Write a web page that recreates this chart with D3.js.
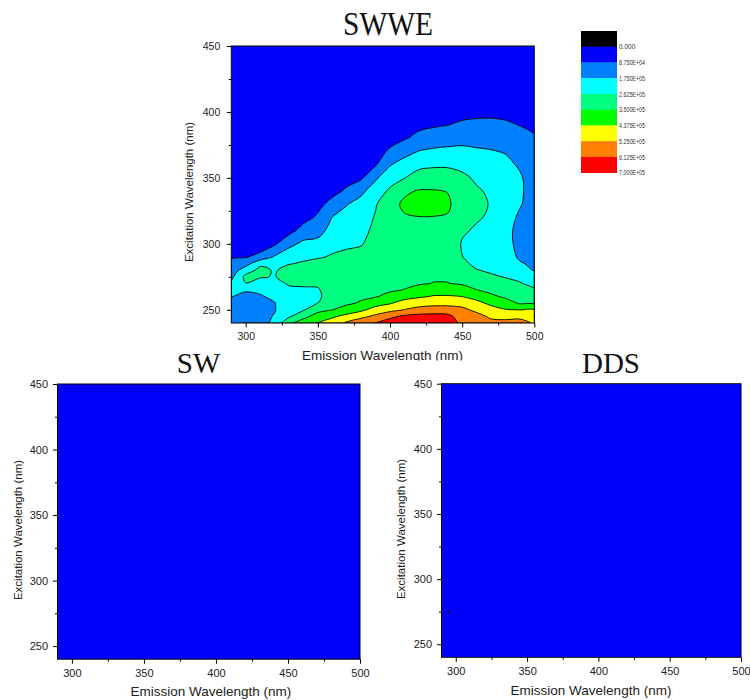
<!DOCTYPE html>
<html><head><meta charset="utf-8">
<script src="https://cdn.jsdelivr.net/npm/d3@7"></script>
<style>body{margin:0;background:#fff}</style>
</head><body>
<svg id="chart" width="750" height="700"></svg>
<script>
// ---------------- DATA ----------------
// Emission wavelengths (columns) and excitation wavelengths (rows), nm
const emission = [290,300,310,320,330,340,350,360,370,380,390,400,410,420,430,440,450,460,470,480,490,500];
const excitation = [240,245,250,255,260,265,270,275,280,285,290,300,310,320,330,340,350,360,370,380,390,400,425,450];
// SWWE fluorescence intensity, in units of 1E+05, one row per excitation wavelength
const swweIntensity = [
  [1.45,1.5,1.45,1.9,3.3,3.9,4.42,4.75,5.4,5.9,6.15,6.6,6.8,6.9,6.95,6.85,5.7,5.75,5.5,5.45,5.4,5.2],
  [1.52,1.54,1.5,1.8,2.5,3.25,3.85,4.25,4.6,5.0,5.45,5.9,6.3,6.45,6.5,6.4,5.65,5.55,5.1,5.05,5.15,4.95],
  [1.59,1.58,1.55,1.7,2.35,2.55,3.25,3.48,3.9,4.2,4.7,5.0,5.27,5.45,5.55,5.55,5.45,5.05,4.7,4.42,4.36,4.36],
  [1.66,1.62,1.6,1.72,2.3,2.35,2.63,3.2,3.35,3.6,4.05,4.3,4.75,5.0,5.05,5.05,4.95,4.6,4.2,3.95,3.4,3.35],
  [1.73,1.67,1.68,1.9,2.35,2.35,2.45,3.1,3.2,3.35,3.45,3.75,4.05,4.25,4.45,4.45,4.38,4.1,3.7,3.35,3.05,2.95],
  [2.15,1.78,1.88,2.15,2.48,2.5,2.55,3.05,3.15,3.25,3.35,3.4,3.52,3.8,3.95,4.0,3.9,3.52,3.25,3.0,2.85,2.7],
  [1.85,2.6,2.25,2.4,2.7,2.75,2.75,3.05,3.15,3.2,3.3,3.35,3.38,3.42,3.52,3.52,3.4,3.1,2.95,2.78,2.68,2.4],
  [1.55,2.85,2.7,2.58,2.95,2.95,3.0,3.1,3.15,3.2,3.25,3.3,3.35,3.38,3.42,3.4,3.1,2.85,2.7,2.6,2.45,2.05],
  [1.3,2.2,2.85,2.55,2.9,3.0,3.1,3.05,3.1,3.15,3.2,3.28,3.33,3.36,3.38,3.35,2.9,2.65,2.55,2.45,2.1,1.7],
  [1.05,1.4,2.45,2.3,2.58,2.72,2.9,2.9,2.95,3.0,3.1,3.25,3.32,3.35,3.36,3.32,2.75,2.5,2.45,2.35,1.85,1.55],
  [0.8,0.82,1.15,1.85,2.3,2.45,2.55,2.7,2.8,2.85,3.0,3.22,3.3,3.35,3.35,3.3,2.64,2.4,2.38,2.25,1.6,1.45],
  [0.55,0.5,0.4,0.75,1.5,1.95,2.0,2.4,2.5,2.58,2.9,3.2,3.3,3.38,3.37,3.3,2.55,2.35,2.3,2.1,1.45,1.35],
  [0.45,0.42,0.35,0.45,0.6,1.2,1.45,2.05,2.25,2.4,2.8,3.2,3.35,3.42,3.42,3.35,2.75,2.5,2.35,2.05,1.45,1.32],
  [0.4,0.38,0.33,0.38,0.42,0.6,1.0,1.77,2.0,2.2,2.7,3.25,3.45,3.48,3.48,3.45,3.0,2.72,2.5,2.15,1.6,1.32],
  [0.36,0.35,0.31,0.35,0.38,0.45,0.65,1.15,1.72,2.0,2.55,3.3,3.6,3.75,3.7,3.6,3.15,2.8,2.58,2.25,1.82,1.35],
  [0.33,0.33,0.3,0.33,0.35,0.4,0.5,0.62,1.0,1.6,2.1,2.8,3.4,3.55,3.55,3.48,3.1,2.72,2.5,2.2,1.88,1.38],
  [0.3,0.31,0.29,0.31,0.33,0.36,0.45,0.5,0.6,0.75,1.65,2.2,2.6,3.0,3.05,3.05,2.8,2.5,2.35,2.1,1.85,1.35],
  [0.28,0.29,0.28,0.29,0.31,0.33,0.4,0.45,0.5,0.55,0.8,1.7,2.1,2.4,2.5,2.5,2.4,2.2,2.1,1.95,1.65,1.25],
  [0.26,0.27,0.27,0.28,0.29,0.31,0.36,0.4,0.45,0.48,0.55,1.0,1.45,1.78,1.9,1.95,1.95,1.85,1.8,1.7,1.45,1.1],
  [0.25,0.26,0.26,0.27,0.28,0.3,0.33,0.37,0.41,0.44,0.48,0.6,0.8,1.1,1.3,1.4,1.5,1.5,1.45,1.35,1.15,0.93],
  [0.24,0.25,0.25,0.26,0.27,0.29,0.31,0.34,0.38,0.4,0.43,0.5,0.58,0.7,0.78,0.87,1.0,1.05,1.05,0.98,0.86,0.75],
  [0.22,0.24,0.24,0.25,0.26,0.28,0.3,0.32,0.35,0.37,0.4,0.45,0.5,0.55,0.58,0.62,0.65,0.7,0.72,0.7,0.65,0.6],
  [0.2,0.21,0.21,0.22,0.23,0.25,0.26,0.28,0.3,0.32,0.34,0.37,0.4,0.42,0.44,0.46,0.47,0.48,0.48,0.48,0.47,0.45],
  [0.18,0.19,0.19,0.2,0.2,0.22,0.23,0.25,0.27,0.28,0.3,0.32,0.35,0.36,0.38,0.4,0.4,0.4,0.4,0.4,0.4,0.38]
];
// SW and DDS: intensity stays in the lowest band everywhere
const swEmission = [290, 500];
const swExcitation = [240, 450];
const swIntensity = [[0.02,0.02],[0.02,0.02]];
const ddsEmission = [290, 500];
const ddsExcitation = [240, 450];
const ddsIntensity = [[0.02,0.02],[0.02,0.02]];
const ddsSpot = [[295, 275]];

// contour levels (1E+05) and legend
const levels = [0, 0.875, 1.75, 2.625, 3.5, 4.375, 5.25, 6.125, 7.0];
const levelLabels = ["0.000","8.750E+04","1.750E+05","2.625E+05","3.500E+05","4.375E+05","5.250E+05","6.125E+05","7.000E+05"];
const bandColors = ["#0000FF","#0080FF","#00FFFF","#00FF80","#00FF00","#FFFF00","#FF8000","#FF0000"];
const legendColors = ["#000000","#0000FF","#0080FF","#00FFFF","#00FF80","#00FF00","#FFFF00","#FF8000","#FF0000"];

const xTicks = [300,350,400,450,500];
const xMinor = [325,375,425,475];
const yTicks = [250,300,350,400,450];
const yMinor = [275,325,375,425];
const xTitle = "Emission Wavelength (nm)";
const yTitle = "Excitation Wavelength (nm)";

// ---------------- DRAW ----------------
const svg = d3.select("#chart");
svg.append("rect").attr("width",750).attr("height",700).attr("fill","#fff");
const SANS = "'Liberation Sans', Arial, sans-serif";
const SERIF = "'Liberation Serif', 'Times New Roman', serif";
let clipId = 0;

function gridMap(arr) {
  const n = arr.length;
  return c => {
    const t = Math.max(0, Math.min(n - 1, c - 0.5));
    const i = Math.min(n - 2, Math.floor(t));
    return arr[i] + (t - i) * (arr[i + 1] - arr[i]);
  };
}

function panel(o) {
  const x = d3.scaleLinear().domain([290, 500]).range([o.x0, o.x1]);
  const y = d3.scaleLinear().domain([240, 450]).range([o.y1, o.y0]);
  const n = o.xs.length, m = o.ys.length;
  const values = o.rows.flat();
  const mx = gridMap(o.xs), my = gridMap(o.ys);
  const contours = d3.contours().size([n, m]).thresholds(levels.slice(0, 8))(values);
  const ringLine = d3.line().curve(d3.curveCatmullRomClosed.alpha(0.5));
  const toPath = mp => mp.coordinates.map(poly => poly.map(ring => {
    const pts = [];
    ring.forEach(([cx, cy]) => {
      const p = [x(mx(cx)), y(my(cy))];
      const last = pts[pts.length - 1];
      if (!last || Math.abs(last[0] - p[0]) > 0.01 || Math.abs(last[1] - p[1]) > 0.01) pts.push(p);
    });
    if (pts.length > 1) {
      const f = pts[0], l = pts[pts.length - 1];
      if (Math.abs(f[0] - l[0]) < 0.01 && Math.abs(f[1] - l[1]) < 0.01) pts.pop();
    }
    return pts.length > 2 ? ringLine(pts) : "";
  }).join("")).join("");

  const cid = "clip" + (clipId++);
  svg.append("clipPath").attr("id", cid).append("rect")
    .attr("x", o.x0).attr("y", o.y0).attr("width", o.x1 - o.x0).attr("height", o.y1 - o.y0);
  const g = svg.append("g").attr("clip-path", `url(#${cid})`);
  g.append("rect").attr("x", o.x0).attr("y", o.y0).attr("width", o.x1 - o.x0).attr("height", o.y1 - o.y0)
    .attr("fill", bandColors[0]);
  g.selectAll("path").data(contours.slice(1)).join("path")
    .attr("d", toPath)
    .attr("fill", (d, i) => bandColors[i + 1])
    .attr("stroke", "#000")
    .attr("stroke-width", 0.9)
    .attr("stroke-linejoin", "round");

  if (o.spots) {
    g.selectAll("circle").data(o.spots).join("circle")
      .attr("cx", d => x(d[0])).attr("cy", d => y(d[1])).attr("r", 1.1).attr("fill", "#000");
  }

  // frame
  svg.append("rect").attr("x", o.x0).attr("y", o.y0).attr("width", o.x1 - o.x0).attr("height", o.y1 - o.y0)
    .attr("fill", "none").attr("stroke", "#000").attr("stroke-width", 1);

  // axes
  const style = (sel, fs) => {
    sel.select(".domain").remove();
    sel.attr("font-family", SANS).attr("font-size", fs);
    sel.selectAll("text").attr("fill", "#222");
    sel.selectAll("line").attr("stroke", "#000");
  };
  svg.append("g").attr("transform", `translate(0,${o.y1})`)
    .call(d3.axisBottom(x).tickValues(xTicks).tickSize(4.5).tickPadding(5.5).tickFormat(d3.format("d")))
    .call(s => style(s, o.fs));
  svg.append("g").attr("transform", `translate(0,${o.y1})`)
    .call(d3.axisBottom(x).tickValues(xMinor).tickSize(2.5).tickFormat(""))
    .call(s => style(s, o.fs));
  svg.append("g").attr("transform", `translate(${o.x0},0)`)
    .call(d3.axisLeft(y).tickValues(yTicks).tickSize(4.5).tickPadding(o.yPad).tickFormat(d3.format("d")))
    .call(s => style(s, o.fs));
  svg.append("g").attr("transform", `translate(${o.x0},0)`)
    .call(d3.axisLeft(y).tickValues(yMinor).tickSize(2.5).tickFormat(""))
    .call(s => style(s, o.fs));

  // axis titles
  const xt = svg.append("text").attr("x", o.xTitleX).attr("y", o.xTitleY)
    .attr("text-anchor", "middle").attr("font-family", SANS).attr("font-size", 13.5)
    .attr("fill", "#222").text(xTitle);
  if (o.xTitleClip) {
    const c2 = "clip" + (clipId++);
    svg.append("clipPath").attr("id", c2).append("rect").attr("x", 0).attr("y", 0).attr("width", 750).attr("height", o.xTitleClip);
    xt.attr("clip-path", `url(#${c2})`);
  }
  svg.append("text").attr("transform", `translate(${o.yTitleX},${o.yTitleY}) rotate(-90)`)
    .attr("text-anchor", "middle").attr("font-family", SANS).attr("font-size", 11.5)
    .attr("fill", "#222").text(yTitle);

  // title
  const t = svg.append("text").attr("x", o.titleX).attr("y", o.titleY)
    .attr("text-anchor", "middle").attr("font-family", SERIF).attr("font-size", o.titleSize)
    .attr("fill", "#111").text(o.title);
  if (o.titleLen) t.attr("textLength", o.titleLen).attr("lengthAdjust", "spacingAndGlyphs");
}

panel({ x0: 231.3, x1: 534.3, y0: 46, y1: 323, xs: emission, ys: excitation, rows: swweIntensity,
  fs: 10.5, yPad: 6.5, xTitleX: 382.5, xTitleY: 360, xTitleClip: 360.5, yTitleX: 192.5, yTitleY: 192,
  title: "SWWE", titleX: 388, titleY: 35, titleSize: 33, titleLen: 90 });

panel({ x0: 57.5, x1: 360, y0: 384, y1: 659.2, xs: swEmission, ys: swExcitation, rows: swIntensity,
  fs: 11, yPad: 5, xTitleX: 210.8, xTitleY: 696, yTitleX: 21.5, yTitleY: 530,
  title: "SW", titleX: 198.5, titleY: 373, titleSize: 29 });

panel({ x0: 441.5, x1: 741, y0: 383.7, y1: 657.3, xs: ddsEmission, ys: ddsExcitation, rows: ddsIntensity,
  fs: 11, yPad: 5, xTitleX: 591, xTitleY: 695, yTitleX: 405, yTitleY: 529, spots: ddsSpot,
  title: "DDS", titleX: 611, titleY: 373, titleSize: 29 });

// legend
const lg = svg.append("g");
const boxH = 15.74, bx = 581, by = 31, bw = 36;
lg.selectAll("rect").data(legendColors).join("rect")
  .attr("x", bx).attr("y", (d, i) => by + i * boxH).attr("width", bw).attr("height", boxH + 0.3)
  .attr("fill", d => d);
lg.selectAll("text").data(levelLabels).join("text")
  .attr("x", bx + bw + 2).attr("y", (d, i) => by + (i + 1) * boxH + 1)
  .attr("dominant-baseline", "middle").attr("font-family", SANS).attr("font-size", 6.5)
  .attr("fill", "#333").text(d => d)
  .each(function(d) { if (d.length > 5) d3.select(this).attr("textLength", 26).attr("lengthAdjust", "spacingAndGlyphs"); });
</script>
</body></html>
